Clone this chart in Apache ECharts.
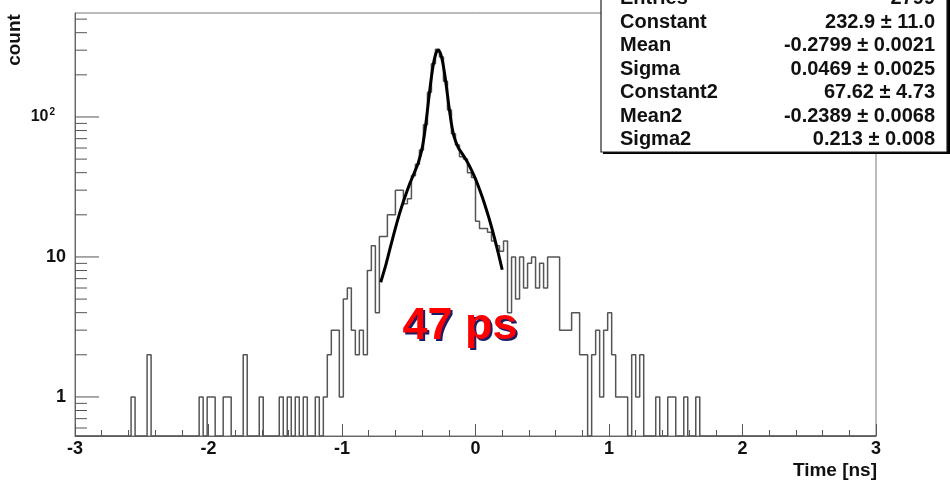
<!DOCTYPE html>
<html>
<head>
<meta charset="utf-8">
<script src="https://cdn.jsdelivr.net/npm/echarts@6/dist/echarts.min.js"></script>
<style>
  html, body { margin: 0; padding: 0; background: #fff; }
  #chart { width: 950px; height: 483px; }
</style>
</head>
<body>
<div id="chart"></div>
<script>
// Time difference histogram: 200 bins of 0.03 ns from -3 to 3 ns
const binLow = -3;
const binWidth = 0.03;
const counts = [
  0, 0, 0, 0, 0, 0, 0, 0, 0, 0,   0, 0, 0, 0, 1, 0, 0, 0, 2, 0,
  0, 0, 0, 0, 0, 0, 0, 0, 0, 0,   0, 1, 0, 1, 1, 0, 0, 1, 1, 0,
  0, 0, 2, 0, 0, 0, 1, 0, 0, 0,   0, 1, 0, 1, 0, 1, 0, 1, 0, 0,
  1, 0, 1, 2, 3, 3, 1, 5, 6, 3,   2, 3, 2, 8, 12, 4, 14, 14, 20, 20,
  30, 30, 24, 26, 38, 46, 58, 88, 150, 240,   305, 268, 180, 112, 76, 63, 52, 50, 40, 37,
  18, 16, 16, 15, 13, 12, 11, 13, 4, 10,   5, 10, 6, 9, 10, 6, 9, 6, 10, 10,
  10, 3, 3, 3, 4, 4, 2, 2, 0, 2,   3, 1, 3, 4, 2, 1, 1, 1, 0, 2,
  1, 2, 0, 0, 0, 1, 0, 0, 1, 1,   0, 0, 1, 0, 0, 1, 0, 0, 0, 0,
  0, 0, 0, 0, 0, 0, 0, 0, 0, 0,   0, 0, 0, 0, 0, 0, 0, 0, 0, 0,
  0, 0, 0, 0, 0, 0, 0, 0, 0, 0,   0, 0, 0, 0, 0, 0, 0, 0, 0, 0
];

// Double-gaussian fit curve, sampled along the fit range
const fitX = [
  -0.71, -0.67, -0.64, -0.61, -0.58, -0.55, -0.52, -0.49, -0.46, -0.43,
  -0.40, -0.38, -0.36, -0.35, -0.34, -0.33, -0.32, -0.31, -0.30, -0.29,
  -0.28, -0.27, -0.26, -0.25, -0.24, -0.23, -0.22, -0.21, -0.20, -0.18,
  -0.16, -0.13, -0.10, -0.07, -0.04, -0.01, 0.02, 0.05, 0.08, 0.11,
  0.14, 0.17, 0.20
];
const fitY = [
  6.6, 8.9, 11.5, 14.8, 18.8, 23.3, 28.3, 33.8, 39.6, 46.6,
  59.6, 78.2, 111.7, 135.2, 162.9, 193.3, 224.5, 253.6, 277.4, 293.3,
  299.3, 294.7, 280.1, 257.6, 229.8, 199.8, 170.4, 143.7, 121.1, 89.2,
  72.0, 60.7, 54.7, 49.3, 43.7, 37.9, 32.3, 26.9, 22.0, 17.7,
  13.9, 10.7, 8.1
];

// Fit statistics panel
const statNames = ['Entries', 'Constant', 'Mean', 'Sigma', 'Constant2', 'Mean2', 'Sigma2'];
const statValues = ['2799', '232.9 \u00b1 11.0', '-0.2799 \u00b1 0.0021', '0.0469 \u00b1 0.0025',
                    '67.62 \u00b1 4.73', '-0.2389 \u00b1 0.0068', '0.213 \u00b1 0.008'];

// Axis ranges and log-axis tick values
const xRange = [-3, 3];
const yRange = [0.526, 553];
const yTickValues = [0.6, 0.7, 0.8, 0.9, 1, 2, 3, 4, 5, 6, 7, 8, 9, 10,
                     20, 30, 40, 50, 60, 70, 80, 90, 100, 200, 300, 400, 500];

// Outline of the histogram; empty bins drop to the bottom of the frame
const outline = [[binLow, yRange[0]]];
counts.forEach((c, i) => {
  const v = c > 0 ? c : yRange[0];
  const x0 = binLow + i * binWidth;
  outline.push([x0, v], [x0 + binWidth, v]);
});
outline.push([binLow + counts.length * binWidth, yRange[0]]);

const fitLine = fitX.map((x, i) => [x, fitY[i]]);

const FONT = '"Liberation Sans", Arial, Helvetica, sans-serif';
const isDecade = v => Math.abs(Math.log10(v) - Math.round(Math.log10(v))) < 1e-6;

const chart = echarts.init(document.getElementById('chart'), null, { renderer: 'canvas' });

const graphics = [];
// stats box (with a small drop shadow)
graphics.push({ type: 'rect', z: 100, shape: { x: 603, y: -6, width: 347, height: 160 }, style: { fill: '#000' } });
graphics.push({ type: 'rect', z: 101, shape: { x: 601, y: -8, width: 346, height: 160 }, style: { fill: '#fff', stroke: '#222', lineWidth: 1.2 } });
statNames.forEach((name, i) => {
  const y = -1.2 + i * 23.5;
  graphics.push({ type: 'text', z: 102, x: 620, y: y,
    style: { text: name, fill: '#111', fontFamily: FONT, fontWeight: 'bold', fontSize: 20, align: 'left', verticalAlign: 'middle' } });
  graphics.push({ type: 'text', z: 102, x: 935, y: y,
    style: { text: statValues[i], fill: '#111', fontFamily: FONT, fontWeight: 'bold', fontSize: 20, align: 'right', verticalAlign: 'middle' } });
});
// axis titles
graphics.push({ type: 'text', z: 50, x: 15, y: 40, rotation: Math.PI / 2,
  style: { text: 'count', fill: '#111', fontFamily: FONT, fontWeight: 'bold', fontSize: 19, align: 'center', verticalAlign: 'middle' } });
graphics.push({ type: 'text', z: 50, x: 877, y: 471,
  style: { text: 'Time [ns]', fill: '#111', fontFamily: FONT, fontWeight: 'bold', fontSize: 19, align: 'right', verticalAlign: 'middle' } });
// resolution annotation with shadow
graphics.push({ type: 'text', z: 60, x: 462, y: 329,
  style: { text: '47 ps', fill: '#1c1c66', fontFamily: FONT, fontWeight: 'bold', fontSize: 45, align: 'center', verticalAlign: 'middle' } });
graphics.push({ type: 'text', z: 61, x: 460, y: 327,
  style: { text: '47 ps', fill: '#ff0000', fontFamily: FONT, fontWeight: 'bold', fontSize: 45, align: 'center', verticalAlign: 'middle' } });

const option = {
  animation: false,
  backgroundColor: '#fff',
  grid: { left: 75, top: 13, width: 801, height: 423, show: true, borderColor: '#777', borderWidth: 1, backgroundColor: 'transparent' },
  xAxis: {
    type: 'value', min: xRange[0], max: xRange[1], interval: 1,
    axisLine: { show: true, onZero: false, lineStyle: { color: '#666', width: 1 } },
    axisTick: { show: true, inside: true, length: 12, lineStyle: { color: '#555', width: 1 } },
    minorTick: { show: true, splitNumber: 5, length: 6, lineStyle: { color: '#555', width: 1 } },
    splitLine: { show: false },
    axisLabel: { margin: 4, fontSize: 18, fontWeight: 'bold', fontFamily: FONT, color: '#111', showMinLabel: true, showMaxLabel: true }
  },
  yAxis: {
    type: 'log', logBase: 10, min: yRange[0], max: yRange[1],
    axisLine: { show: true, onZero: false, lineStyle: { color: '#666', width: 1 } },
    axisTick: { show: false },
    splitLine: { show: false },
    axisLabel: {
      margin: 9, fontFamily: FONT, color: '#111',
      formatter: v => {
        if (!isDecade(v)) return '';
        const n = Math.round(Math.log10(v));
        if (n === 0) return '{m|1}';
        if (n === 1) return '{m|10}';
        return '{p|10}{s|' + n + '}';
      },
      rich: {
        m: { fontSize: 18, fontWeight: 'bold', fontFamily: FONT, color: '#111' },
        p: { fontSize: 16, fontWeight: 'bold', fontFamily: FONT, color: '#111', lineHeight: 20 },
        s: { fontSize: 10, fontWeight: 'bold', fontFamily: FONT, color: '#111', verticalAlign: 'top', padding: [0, 11, 0, 1] }
      }
    }
  },
  graphic: graphics,
  series: [
    {
      name: 'yticks', type: 'custom', silent: true, z: 5,
      data: yTickValues.map(v => [xRange[0], v]),
      renderItem: (params, api) => {
        const v = api.value(1);
        const p = api.coord([api.value(0), v]);
        const len = isDecade(v) ? 24 : 12;
        return { type: 'line', shape: { x1: p[0], y1: p[1], x2: p[0] + len, y2: p[1] },
                 style: { stroke: '#555', lineWidth: 1 } };
      }
    },
    {
      name: 'histogram', type: 'line', data: outline, showSymbol: false, z: 3,
      lineStyle: { color: '#555', width: 1.5 }
    },
    {
      name: 'fit', type: 'line', data: fitLine, showSymbol: false, smooth: 0.3, z: 4,
      lineStyle: { color: '#000', width: 3 }
    }
  ]
};
chart.setOption(option);
</script>
</body>
</html>
